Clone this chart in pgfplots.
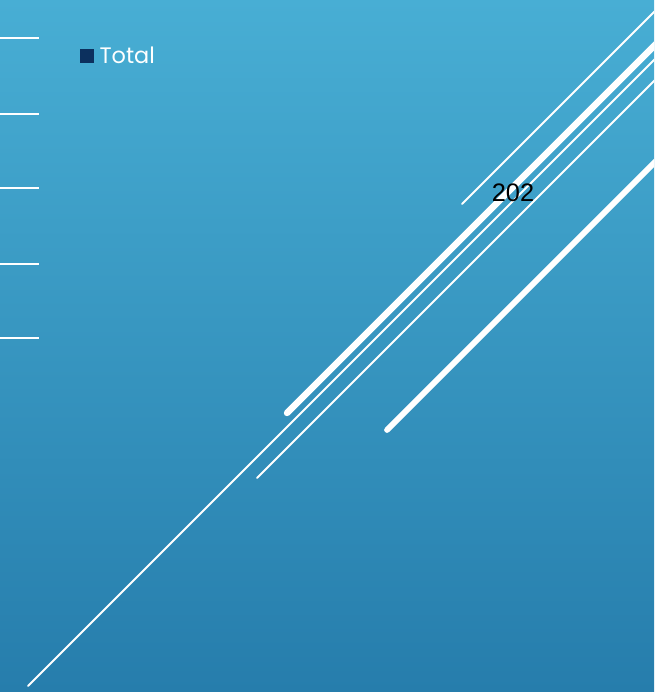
\documentclass[border=0pt]{standalone}
\usepackage{pgfplots}
\pgfplotsset{compat=1.18}
\usepackage{fontspec}
\setmainfont{Liberation Sans}
\newfontfamily\legfont{Poppins}
\definecolor{bgtop}{RGB}{72,174,212}
\definecolor{bgbot}{RGB}{38,125,172}
\definecolor{navy}{RGB}{12,48,94}
\begin{document}
\begin{tikzpicture}
\begin{axis}[
  scale only axis,
  width=490.5pt, height=519pt,
  xmin=0, xmax=654, ymin=0, ymax=692,
  y dir=reverse,
  axis lines=none, ticks=none,
  axis background/.style={top color=bgtop, bottom color=bgbot},
  legend style={at={(axis cs:80,56)}, anchor=west, draw=none, fill=none,
    text=white, font=\legfont\fontsize{16.8}{18}\selectfont, inner sep=0pt,
    legend cell align=left, nodes={inner xsep=4.5pt}},
]
% short horizontal white lines on the left
\addplot[white, line width=1.5pt, forget plot] coordinates {(-5,38) (39,38)};
\addplot[white, line width=1.5pt, forget plot] coordinates {(-5,114) (39,114)};
\addplot[white, line width=1.5pt, forget plot] coordinates {(-5,188) (39,188)};
\addplot[white, line width=1.5pt, forget plot] coordinates {(-5,264) (39,264)};
\addplot[white, line width=1.5pt, forget plot] coordinates {(-5,338) (39,338)};
% diagonal lines
\addplot[white, line width=1.4pt, line cap=round, forget plot] coordinates {(28,686) (700,14)};
\addplot[white, line width=1.4pt, line cap=round, forget plot] coordinates {(257,478) (720,15)};
\addplot[white, line width=4.8pt, line cap=round, forget plot] coordinates {(287,413) (700,0)};
\addplot[white, line width=4.3pt, line cap=round, forget plot] coordinates {(387,430) (720,97)};
\addplot[white, line width=1.4pt, line cap=round, forget plot] coordinates {(462,204) (700,-34)};
% data label
\addplot[draw=none, mark=none, forget plot, nodes near coords, point meta=explicit symbolic,
  nodes near coords align={center},
  every node near coord/.append style={font=\fontsize{19}{21}\selectfont, text=black, anchor=center}]
  coordinates {(513,193) [202]};
\addlegendimage{legend image code/.code={\fill[navy] (0pt,-4.8pt) rectangle (9.6pt,4.8pt);}}
\addlegendentry{Total}
\end{axis}
\end{tikzpicture}
\end{document}
